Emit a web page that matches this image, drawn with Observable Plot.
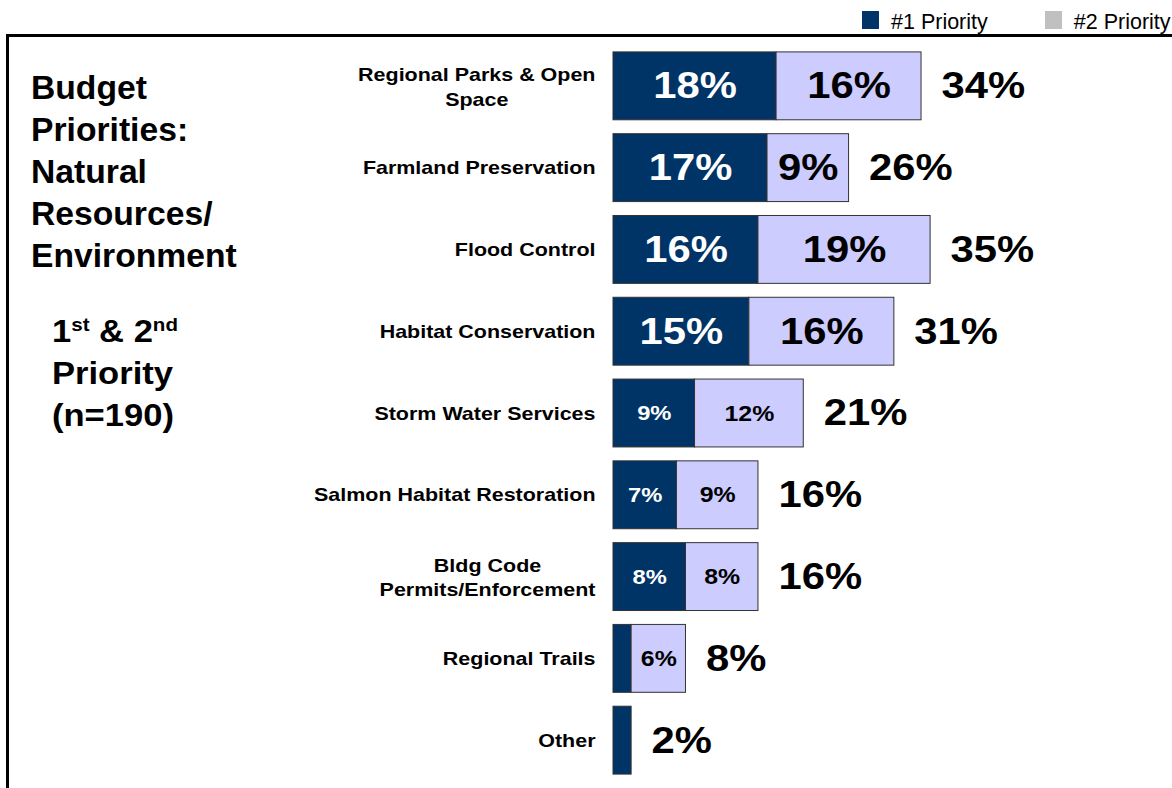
<!DOCTYPE html>
<html>
<head>
<meta charset="utf-8">
<script src="https://cdn.jsdelivr.net/npm/d3@7"></script>
<script src="https://cdn.jsdelivr.net/npm/@observablehq/plot@0.6"></script>
<style>
  html, body { margin: 0; padding: 0; background: #fff; }
  #wrap { position: relative; width: 1172px; height: 788px; overflow: hidden;
          font-family: "Liberation Sans", Arial, Helvetica, sans-serif; color: #000; }
  #frame { position: absolute; left: 6px; top: 34px; width: 1200px; height: 800px;
           border-top: 3px solid #000; border-left: 3px solid #000; z-index: 1; }
  #chart { position: absolute; left: 0; top: 0; z-index: 2; }
  #title { position: absolute; left: 31px; top: 67px; font-weight: bold; font-size: 33px;
           line-height: 42px; z-index: 3; white-space: nowrap; transform: scaleX(1.02); transform-origin: left top; }
  #subtitle { position: absolute; left: 52px; top: 310px; font-weight: bold; font-size: 32px;
              line-height: 42px; z-index: 3; white-space: nowrap; transform: scaleX(1.08); transform-origin: left top; }
  #subtitle sup { font-size: 19px; line-height: 0; vertical-align: baseline; position: relative; top: -11px; }
  #legend { position: absolute; left: 862px; top: 11px; display: flex; align-items: flex-start; z-index: 3;
            font-size: 21.5px; line-height: 22px; white-space: nowrap; }
  .litem { display: flex; align-items: flex-start; margin-right: 57px; }
  .lsw { width: 17px; height: 18px; margin-right: 12px; }
</style>
</head>
<body>
<div id="wrap">
  <div id="frame"></div>
  <div id="legend"></div>
  <div id="title">Budget<br>Priorities:<br>Natural<br>Resources/<br>Environment</div>
  <div id="subtitle">1<sup>st</sup> &amp; 2<sup>nd</sup><br>Priority<br>(n=190)</div>
  <div id="chart"></div>
</div>
<script>
// ---- data ----
const categories = [
  "Regional Parks & Open\nSpace",
  "Farmland Preservation",
  "Flood Control",
  "Habitat Conservation",
  "Storm Water Services",
  "Salmon Habitat Restoration",
  "Bldg Code\nPermits/Enforcement",
  "Regional Trails",
  "Other"
];
const priority1 = [18, 17, 16, 15, 9, 7, 8, 2, 2];
const priority2 = [16, 9, 19, 16, 12, 9, 8, 6, 0];
const totals    = [34, 26, 35, 31, 21, 16, 16, 8, 2];
const priorities = ["#1 Priority", "#2 Priority"];

// ---- styles ----
const barColors = ["#003366", "#ccccff"];
const legendColors = ["#003366", "#c0c0c0"];
const FONT = '"Liberation Sans", Arial, Helvetica, sans-serif';
const LABEL_FS = 19;
const SX = 1.13;

const rows = categories.map((cat, i) => ({cat, p1: priority1[i], p2: priority2[i], total: totals[i]}));
const segs = rows.flatMap(r => [
  {cat: r.cat, pri: priorities[0], value: r.p1},
  {cat: r.cat, pri: priorities[1], value: r.p2}
]).filter(d => d.value > 0);
const big = r => r.total >= 25;

const ctx = document.createElement("canvas").getContext("2d");
ctx.font = `bold ${LABEL_FS}px ${FONT}`;
const single = rows.filter(r => !r.cat.includes("\n"));
const multi = rows.filter(r => r.cat.includes("\n"));
const multiMarks = multi.map(r => {
  const w = Math.max(...r.cat.split("\n").map(s => ctx.measureText(s).width)) * SX;
  return Plot.text([r], {x: d => 0, y: "cat", text: "cat", textAnchor: "middle", dx: -(18 + w / 2), dy: -1,
    fontSize: LABEL_FS, fontWeight: "bold", lineHeight: 1.3, fill: "#000"});
});

const plot = Plot.plot({
  width: 1172, height: 788,
  marginLeft: 613, marginRight: 0, marginTop: 38, marginBottom: 0,
  style: {background: "none", fontFamily: FONT, overflow: "visible"},
  x: {domain: [0, 61.7], axis: null},
  y: {domain: categories, padding: 0.17, round: false, axis: null},
  color: {domain: priorities, range: barColors},
  marks: [
    Plot.barX(segs, Plot.stackX({x: "value", y: "cat", fill: "pri", stroke: "#333", strokeWidth: 1})),
    Plot.text(rows.filter(r => r.p1 >= 5), {x: r => r.p1 / 2, y: "cat", text: r => r.p1 + "%",
      fill: "white", fontWeight: "bold", fontSize: r => big(r) ? 37 : 21}),
    Plot.text(rows.filter(r => r.p2 >= 5), {x: r => r.p1 + r.p2 / 2, y: "cat", text: r => r.p2 + "%",
      fill: "#000", fontWeight: "bold", fontSize: r => big(r) ? 37 : 22}),
    Plot.text(rows, {x: "total", y: "cat", text: r => r.total + "%", textAnchor: "start", dx: 20,
      fill: "#000", fontSize: 37, fontWeight: "bold"}),
    Plot.text(single, {x: d => 0, y: "cat", text: "cat", textAnchor: "end", dx: -18,
      fontSize: LABEL_FS, fontWeight: "bold", fill: "#000"}),
    ...multiMarks
  ]
});

// horizontal stretch of text around its anchor, as in the original
plot.querySelectorAll("text").forEach(t => {
  const tr = t.getAttribute("transform");
  if (tr) {
    t.setAttribute("transform", tr + ` scale(${SX},1)`);
  } else {
    const x = +t.getAttribute("x") || 0, y = +t.getAttribute("y") || 0;
    t.removeAttribute("x"); t.removeAttribute("y");
    t.setAttribute("transform", `translate(${x},${y}) scale(${SX},1)`);
  }
});
document.getElementById("chart").appendChild(plot);

// legend
const legend = document.getElementById("legend");
priorities.forEach((p, i) => {
  const item = document.createElement("div");
  item.className = "litem";
  const sw = document.createElement("div");
  sw.className = "lsw";
  sw.style.background = legendColors[i];
  const lab = document.createElement("span");
  lab.textContent = p;
  item.appendChild(sw); item.appendChild(lab);
  legend.appendChild(item);
});
</script>
</body>
</html>
